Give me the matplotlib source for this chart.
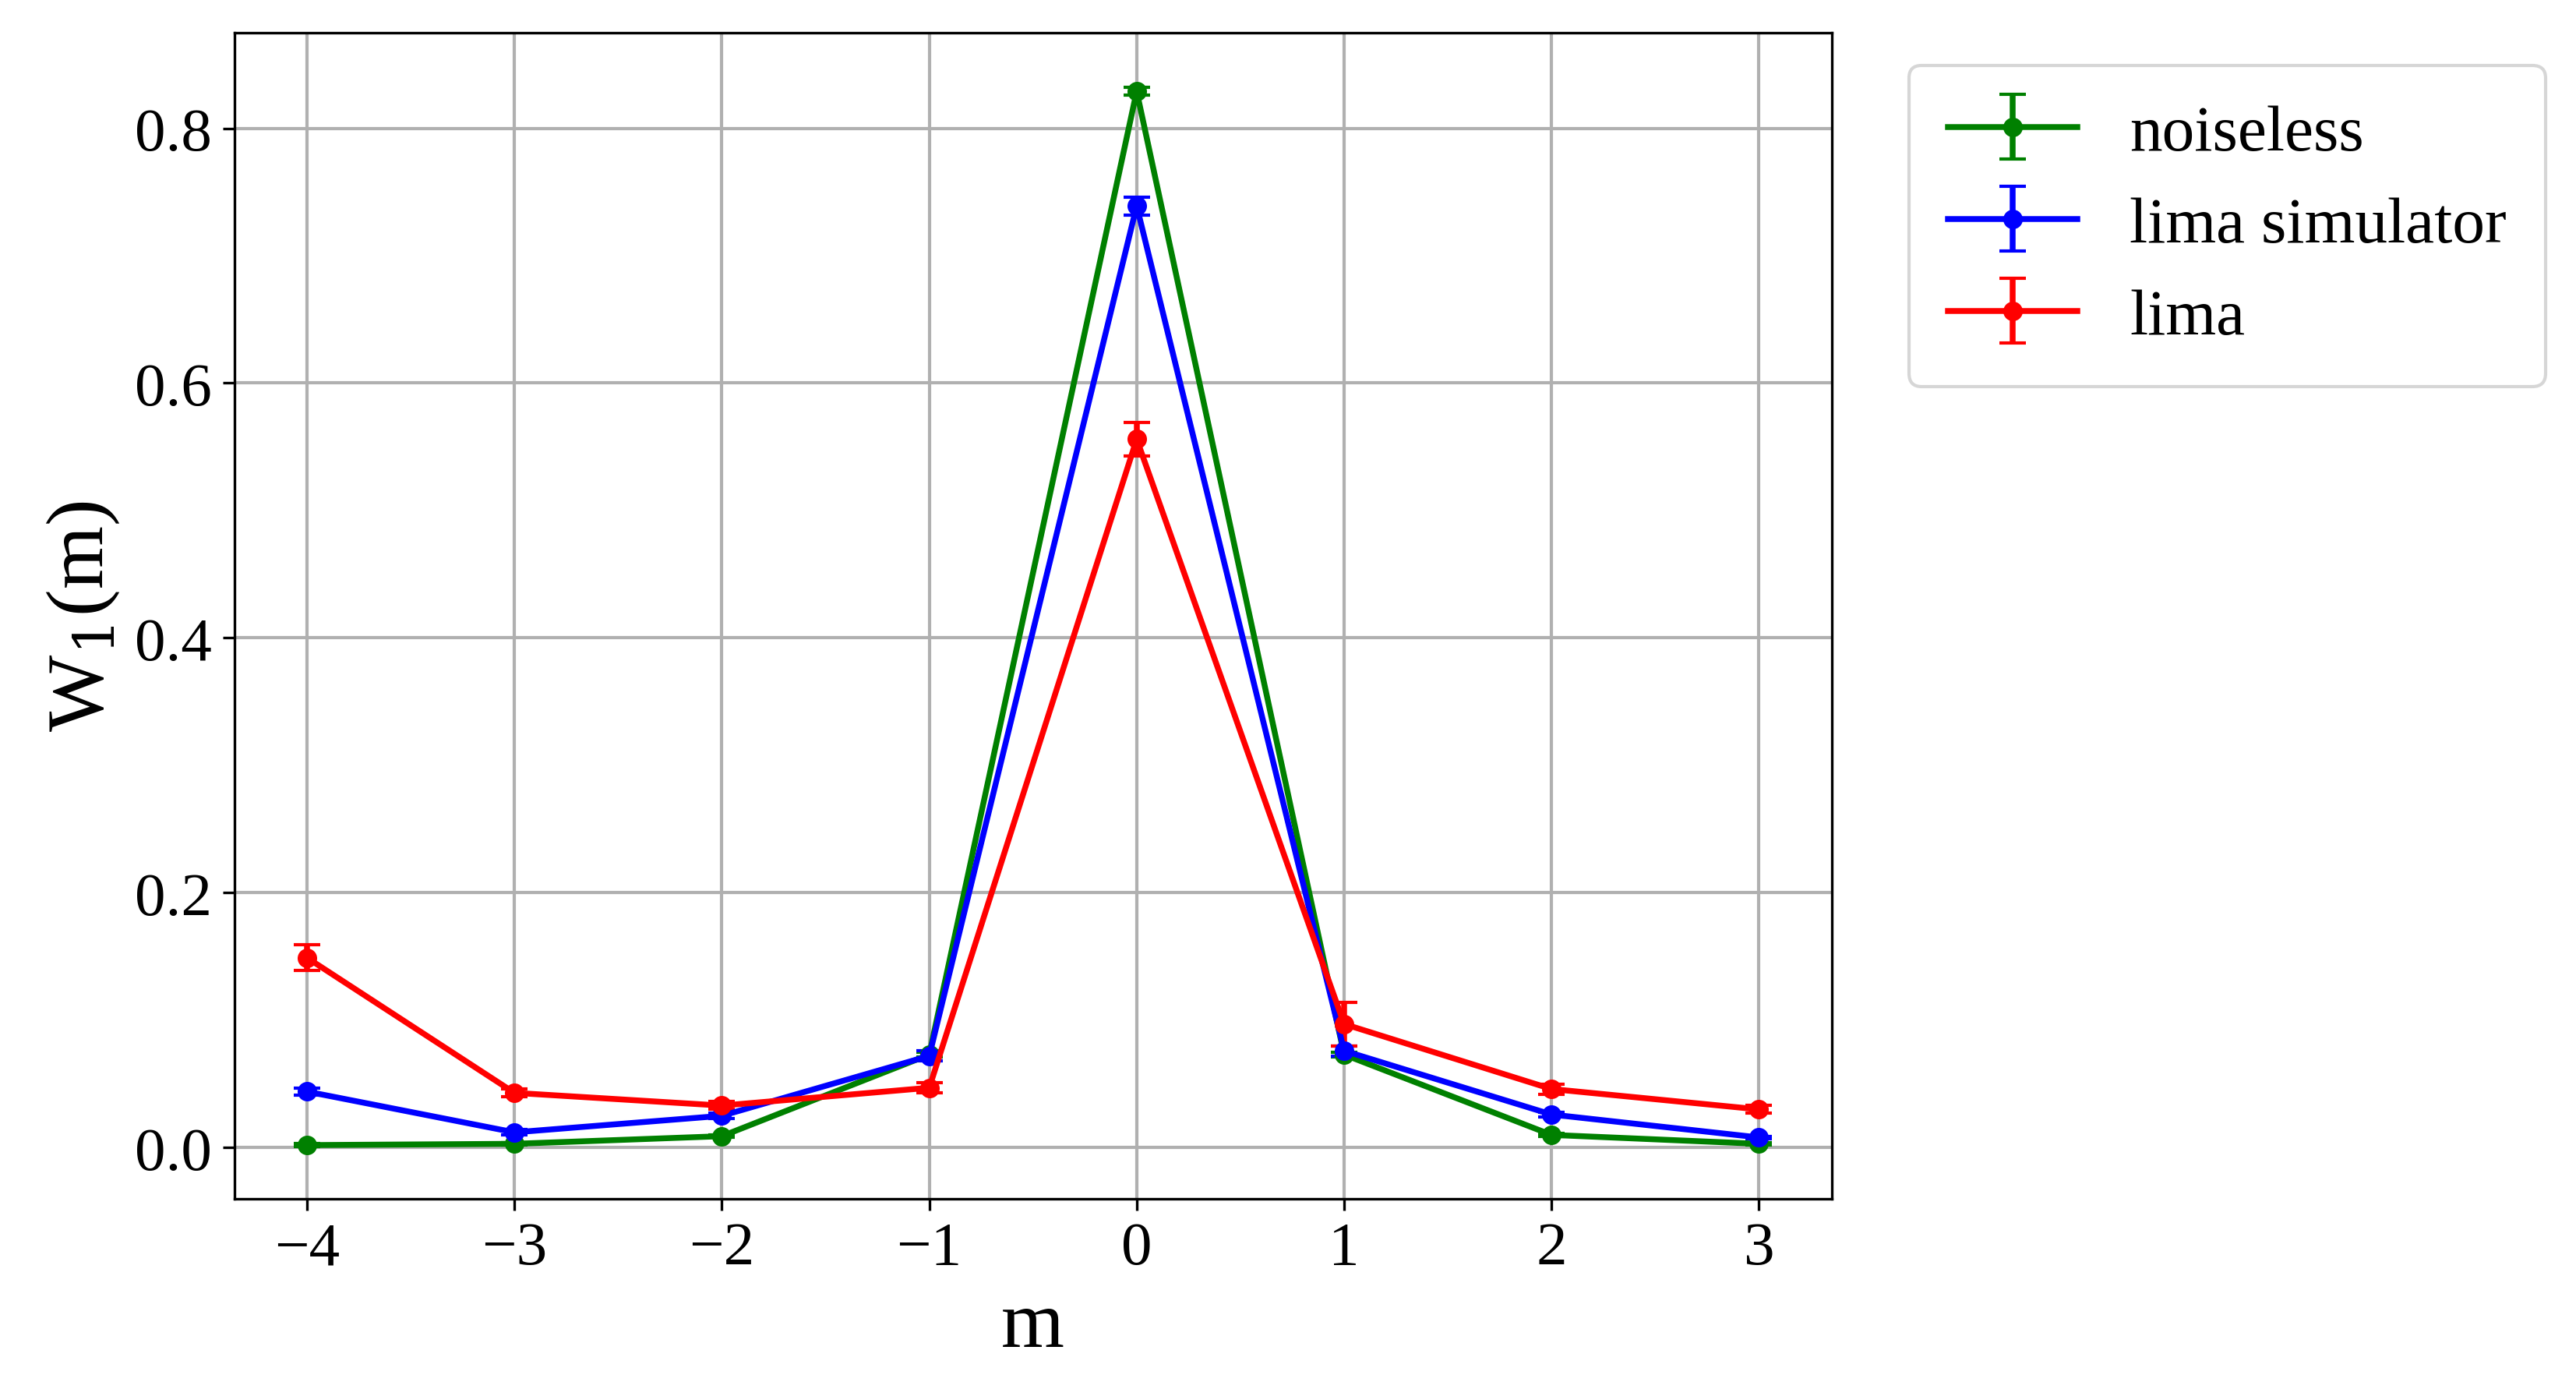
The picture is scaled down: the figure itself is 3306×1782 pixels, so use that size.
import matplotlib
matplotlib.use("Agg")
import matplotlib.pyplot as plt

m = [-4, -3, -2, -1, 0, 1, 2, 3]
noiseless = [0.002, 0.003, 0.009, 0.073, 0.829, 0.073, 0.010, 0.003]
noiseless_err = [0.001, 0.001, 0.001, 0.002, 0.003, 0.002, 0.001, 0.001]
sim = [0.044, 0.012, 0.025, 0.072, 0.739, 0.076, 0.026, 0.008]
sim_err = [0.003, 0.002, 0.002, 0.004, 0.007, 0.004, 0.002, 0.001]
lima = [0.149, 0.043, 0.033, 0.047, 0.556, 0.097, 0.046, 0.030]
lima_err = [0.010, 0.003, 0.003, 0.004, 0.013, 0.017, 0.004, 0.003]

plt.rcParams['font.family'] = ['Liberation Serif', 'DejaVu Serif']
plt.rcParams['mathtext.fontset'] = 'dejavuserif'

fig = plt.figure(figsize=(11.02, 5.943), dpi=300)
ax = fig.add_axes([0.091, 0.137, 0.62, 0.839])

kw = dict(marker='o', markersize=5, capsize=4, linewidth=1.8)
ax.errorbar(m, noiseless, yerr=noiseless_err, color='green', label='noiseless', **kw)
ax.errorbar(m, sim, yerr=sim_err, color='blue', label='lima simulator', **kw)
ax.errorbar(m, lima, yerr=lima_err, color='red', label='lima', **kw)

ax.set_xticks(m)
ax.set_xticklabels([f"\u2212{-v}" if v < 0 else str(v) for v in m])
ax.set_yticks([0.0, 0.2, 0.4, 0.6, 0.8])
ax.set_ylim(-0.04, 0.875)
ax.tick_params(labelsize=19)
ax.grid(True, color='#b0b0b0', linewidth=1)
ax.set_xlabel('m', fontsize=25)
ax.set_ylabel(r'W$_1$(m)', fontsize=25)
ax.legend(loc='upper left', bbox_to_anchor=(1.028, 1.0), fontsize=20, borderpad=0.6)

fig.savefig('out.png', dpi=300)
